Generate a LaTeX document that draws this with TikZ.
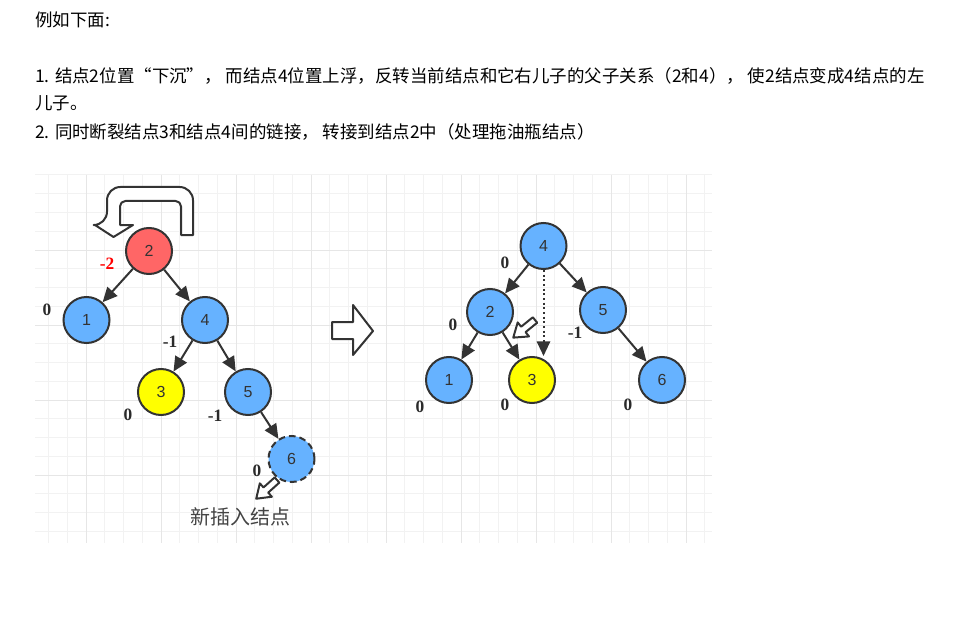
\documentclass[tikz,border=0pt]{standalone}
\usepackage{fontspec}
\setmainfont{Noto Sans CJK SC}
\newfontfamily\numfont{Liberation Sans}
\newfontfamily\balfont{Liberation Serif}
\usetikzlibrary{arrows.meta}
\definecolor{nodeblue}{HTML}{66B2FF}
\definecolor{nodered}{HTML}{FF6666}
\definecolor{nodeyellow}{HTML}{FFFF00}
\definecolor{edgegray}{HTML}{333333}
\definecolor{balgray}{HTML}{2A2A2A}
\definecolor{minorgrid}{HTML}{F2F2F2}
\definecolor{majorgrid}{HTML}{E6E6E6}
\definecolor{capgray}{HTML}{444444}

\begin{document}
\begin{tikzpicture}[x=0.75pt,y=-0.75pt,
  txt/.style={anchor=west,inner sep=0pt,font=\fontsize{13.1}{15}\selectfont,text=black},
  vertex/.style={draw=edgegray,line width=1.5pt,circle,inner sep=0pt,minimum size=34.5pt,
    font=\numfont\fontsize{12}{12}\selectfont,text=edgegray},
  bal/.style={inner sep=0pt,font=\balfont\bfseries\fontsize{13}{13}\selectfont,text=balgray},
  edge/.style={draw=edgegray,line width=1.5pt,-{Triangle[length=11pt,width=10pt]}},
  hollow/.style={draw=edgegray,line width=1.5pt,fill=white,line join=round}]
\useasboundingbox (0,0) rectangle (953,638);

% grid
\begin{scope}
\clip (35,175) rectangle (712,543);
\foreach \i in {0,...,35}
  \draw[minorgrid,line width=0.75pt] (48.5+18.75*\i,175) -- ++(0,368);
\foreach \j in {0,...,19}
  \draw[minorgrid,line width=0.75pt] (35,175+18.75*\j) -- ++(677,0);
\foreach \i in {0,...,8}
  \draw[majorgrid,line width=0.75pt] (86+75*\i,175) -- ++(0,368);
\foreach \j in {1,...,4}
  \draw[majorgrid,line width=0.75pt] (35,175+75*\j) -- ++(677,0);
\end{scope}

% text
\node[txt] (t0) at (35,20) {例如下面:};
\node[txt] (t1) at (35,76) {1. 结点2位置“下沉”， 而结点4位置上浮，反转当前结点和它右儿子的父子关系（2和4）， 使2结点变成4结点的左};
\node[txt] (t2) at (35,103) {儿子。};
\node[txt] (t3) at (35,132) {2. 同时断裂结点3和结点4间的链接， 转接到结点2中（处理拖油瓶结点）};

% before
\node[vertex,fill=nodered] (a2) at (149,251) {2};
\node[vertex,fill=nodeblue] (a1) at (86.5,320) {1};
\node[vertex,fill=nodeblue] (a4) at (205,320) {4};
\node[vertex,fill=nodeyellow] (a3) at (161,392) {3};
\node[vertex,fill=nodeblue] (a5) at (248,392) {5};
\node[vertex,fill=nodeblue,dashed,dash pattern=on 5pt off 3pt] (a6) at (291.5,459) {6};
\draw[edge] (a2) -- (a1);
\draw[edge] (a2) -- (a4);
\draw[edge] (a4) -- (a3);
\draw[edge] (a4) -- (a5);
\draw[edge] (a5) -- (a6);
\node[bal,text=red] (a2b) at (107,264) {-2};
\node[bal] (a1b) at (47,310) {0};
\node[bal] (a4b) at (170,342) {-1};
\node[bal] (a3b) at (128,415) {0};
\node[bal] (a5b) at (215,416) {-1};
\node[bal] (a6b) at (257,471) {0};
\node[inner sep=0pt,font=\fontsize{15}{15}\selectfont,text=capgray] (newtxt) at (240,517) {新插入结点};

% rotate arrow
\draw[hollow] (181,235) -- (193,235) [rounded corners=10] -- (193,187) -- (107,187) -- (107,225)
  [sharp corners] -- (95,225) -- (113.5,237) -- (133,225) -- (120,225) [rounded corners=4]
  -- (120,201) -- (181,201) -- (181,235) [sharp corners] -- cycle;
\begin{scope}[shift={(277,480)},rotate=222]
\draw[hollow] (0,-3.5) -- (15,-3.5) -- (15,-9) -- (28,0) -- (15,9) -- (15,3.5) -- (0,3.5) -- cycle;
\end{scope}

% middle arrow
\draw[hollow] (332,322) -- (353,322) -- (353,305) -- (373,331) -- (353,355) -- (353,339) -- (332,339) -- cycle;

% after
\node[vertex,fill=nodeblue] (b4) at (543.5,246) {4};
\node[vertex,fill=nodeblue] (b2) at (490,312) {2};
\node[vertex,fill=nodeblue] (b5) at (603,310) {5};
\node[vertex,fill=nodeblue] (b1) at (449,380) {1};
\node[vertex,fill=nodeyellow] (b3) at (532,380) {3};
\node[vertex,fill=nodeblue] (b6) at (662,380) {6};
\draw[edge] (b4) -- (b2);
\draw[edge] (b4) -- (b5);
\draw[edge] (b2) -- (b1);
\draw[edge] (b2) -- (b3);
\draw[edge] (b5) -- (b6);
\draw[edge,dash pattern=on 1.5pt off 2pt] (b4.south) -- (b4.south |- b3.north);
\node[bal] (b4b) at (505,263) {0};
\node[bal] (b2b) at (453,325) {0};
\node[bal] (b5b) at (575,333) {-1};
\node[bal] (b1b) at (420,407) {0};
\node[bal] (b3b) at (505,405) {0};
\node[bal] (b6b) at (628,405) {0};
\begin{scope}[shift={(535,320)},rotate=219]
\draw[hollow] (0,-3.5) -- (15,-3.5) -- (15,-9) -- (28,0) -- (15,9) -- (15,3.5) -- (0,3.5) -- cycle;
\end{scope}
\end{tikzpicture}
\end{document}
